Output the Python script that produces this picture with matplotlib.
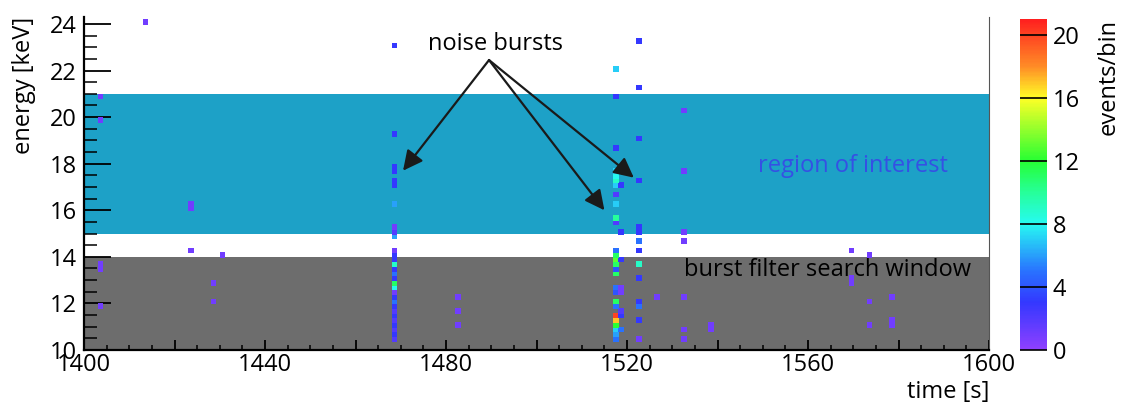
import numpy as np
import matplotlib
matplotlib.use("Agg")
import matplotlib.pyplot as plt
from matplotlib.colors import LinearSegmentedColormap
from matplotlib.ticker import MultipleLocator, FuncFormatter

plt.rcParams['font.family'] = ['Open Sans', 'DejaVu Sans']

# Counts per (1 s x 0.2 keV) bin: time bin start, energy bin centre, events
time_s = (
    [1403, 1403, 1403, 1403, 1403, 1413, 1423, 1423, 1423, 1428, 1428, 1430]
    + [1468] * 30
    + [1482, 1482, 1482]
    + [1517] * 24
    + [1518] * 8
    + [1522] * 14
    + [1526]
    + [1532] * 7
    + [1538, 1538]
    + [1569, 1569, 1569]
    + [1573, 1573, 1573]
    + [1578, 1578, 1578]
)
energy_kev = (
    [20.9, 19.9, 13.7, 13.5, 11.9, 24.1, 16.3, 16.1, 14.3, 12.9, 12.1, 14.1]
    # 1468 s burst
    + [23.1, 19.3, 17.9, 17.7, 17.3, 17.1, 16.3, 15.3, 15.1, 14.9,
       14.3, 14.1, 13.9, 13.7, 13.5, 13.3, 13.1, 12.9, 12.7, 12.5,
       12.3, 12.1, 11.9, 11.7, 11.5, 11.3, 11.1, 10.9, 10.7, 10.5]
    + [12.3, 11.7, 11.1]
    # 1517 s burst
    + [22.1, 20.9, 18.7, 17.7, 17.5, 17.3, 17.1, 16.7, 16.3, 15.7,
       15.5, 14.3, 14.1, 13.9, 13.7, 13.5, 13.3, 12.7, 12.5, 12.1,
       11.9, 11.5, 11.3, 11.1]
    + [17.1, 15.1, 13.9, 12.7, 12.5, 11.7, 11.5, 10.9]
    + [23.3, 21.3, 19.1, 17.3, 15.3, 15.1, 14.7, 14.3, 13.7, 13.1,
       12.1, 11.9, 11.3, 10.5]
    + [12.3]
    + [20.3, 17.7, 15.1, 14.7, 12.3, 10.9, 10.5]
    + [11.1, 10.9]
    + [14.3, 13.1, 12.9]
    + [14.1, 12.1, 11.1]
    + [12.3, 11.3, 11.1]
)
counts = (
    [1] * 12
    + [3, 3, 3, 3, 3, 3, 6, 1, 2, 6,
       1, 3, 3, 9, 3, 5, 3, 11, 8, 1,
       3, 5, 3, 2, 3, 2, 3, 2, 3, 2]
    + [1, 1, 1]
    + [7, 3, 3, 7, 8, 9, 7, 2, 7, 10,
       2, 5, 11, 13, 11, 4, 11, 5, 4, 11,
       5, 20, 17, 12]
    + [3, 3, 3, 1, 1, 2, 3, 5]
    + [3, 3, 3, 3, 3, 3, 5, 3, 9, 3,
       3, 5, 3, 1]
    + [1]
    + [1] * 7
    + [1, 1]
    + [1] * 3
    + [1] * 3
    + [1] * 3
)
# extra low-energy entries of the 1517 s burst
time_s += [1517, 1517, 1517]
energy_kev += [10.9, 10.7, 10.5]
counts += [7, 6, 5]

roi = (15, 21)
search_window = (10, 14)

palette = LinearSegmentedColormap.from_list("rainbow_root", [
    (0.0, (0.56, 0.25, 1.0)),
    (3 / 21, (0.20, 0.22, 1.0)),
    (5 / 21, (0.16, 0.45, 1.0)),
    (8 / 21, (0.15, 0.98, 0.95)),
    (10 / 21, (0.15, 1.0, 0.6)),
    (12 / 21, (0.15, 1.0, 0.2)),
    (16 / 21, (1.0, 1.0, 0.15)),
    (18 / 21, (1.0, 0.55, 0.15)),
    (1.0, (1.0, 0.12, 0.12)),
])

fig = plt.figure(figsize=(11.28, 4.12), dpi=100)
ax = fig.add_axes([0.0745, 0.1505, 0.8023, 0.8083])
cax = fig.add_axes([0.9043, 0.1505, 0.0239, 0.8034])

ax.axhspan(*roi, color='#1da1c7', lw=0, zorder=0)
ax.axhspan(*search_window, color='#6d6d6d', lw=0, zorder=0)

t_edges = np.arange(1400, 1601, 1)
e_edges = 10 + 0.2 * np.arange(73)
_, _, _, mesh = ax.hist2d(time_s, energy_kev, bins=[t_edges, e_edges], weights=counts,
                          cmin=0.5, cmap=palette, vmin=0, vmax=21, zorder=2,
                          edgecolors='face', linewidth=0.7)

ax.set_xlim(1400, 1600)
ax.set_ylim(10, 24.3)

ax.text(1549, 17.9, "region of interest", color='#3550e4', fontsize=17, va='center')
ax.text(1532.5, 13.45, "burst filter search window", color='black', fontsize=17, va='center')
ax.text(1476, 23.15, "noise bursts", color='black', fontsize=17, va='center')

start = (1489.5, 22.45)
for tip in [(1470.5, 17.7), (1515.0, 16.0), (1521.5, 17.4)]:
    ax.annotate("", xy=tip, xytext=start,
                arrowprops=dict(arrowstyle='-|>', color='#1a1a1a', lw=1.6,
                                mutation_scale=30, shrinkA=0, shrinkB=0),
                zorder=4)

# axis styling
ax.xaxis.set_major_locator(MultipleLocator(20))
ax.xaxis.set_minor_locator(MultipleLocator(5))
ax.xaxis.set_major_formatter(FuncFormatter(lambda v, p: f"{v:.0f}" if v % 40 == 0 else ""))
ax.yaxis.set_major_locator(MultipleLocator(2))
ax.yaxis.set_minor_locator(MultipleLocator(0.5))
ax.tick_params(axis='x', which='major', direction='in', length=7, width=1.3, labelsize=17, pad=2)
ax.tick_params(axis='x', which='minor', direction='in', length=3.5, width=1.1)
ax.tick_params(axis='y', which='major', direction='in', length=19.4, width=1.3, labelsize=17, pad=5)
ax.tick_params(axis='y', which='minor', direction='in', length=9.4, width=1.1)
ax.spines['top'].set_visible(False)
ax.spines['right'].set_linewidth(0.8)
ax.spines['right'].set_color('#555555')
ax.spines['left'].set_linewidth(1.6)
ax.spines['bottom'].set_linewidth(1.6)

ax.set_xlabel("time [s]", fontsize=17, loc='right', labelpad=2)
ax.set_ylabel("energy [keV]", fontsize=17, loc='top', labelpad=10)

cbar = fig.colorbar(mesh, cax=cax, ticks=[0, 4, 8, 12, 16, 20])
cbar.outline.set_visible(False)
cax.tick_params(direction='in', length=19.4, width=1.2, labelsize=17, pad=4)
cbar.set_label("events/bin", fontsize=17, loc='top', labelpad=12)

fig.savefig("out.png", dpi=100)
